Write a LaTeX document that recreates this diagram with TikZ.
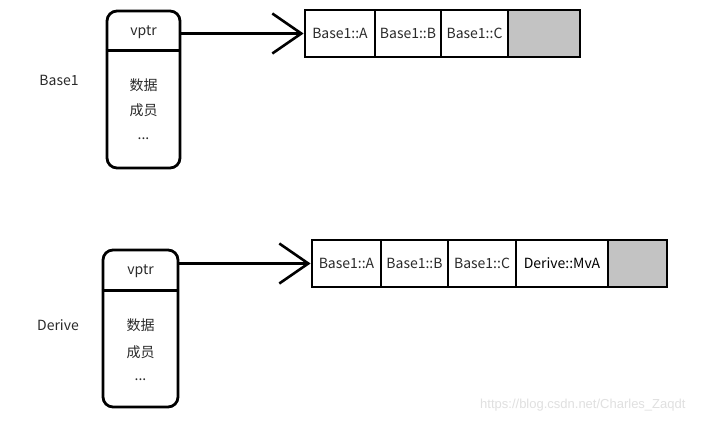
\documentclass[tikz,border=0pt]{standalone}
\usepackage{fontspec}
\setmainfont{Noto Sans CJK SC}
\newfontfamily\wmfont{Liberation Sans}
\usetikzlibrary{arrows.meta}
\definecolor{cellgrey}{HTML}{C3C3C3}
\definecolor{txt}{HTML}{2A2A2A}
\begin{document}
\begin{tikzpicture}[x=1pt,y=-1pt,
  objbox/.style={draw, line width=2.8pt, rounded corners=10pt, minimum width=#1, inner sep=0pt},
  cell/.style={draw, line width=2.8pt, minimum width=#1, minimum height=47pt, inner sep=0pt, font=\fontsize{14}{16}\selectfont, text=txt},
  lbl/.style={font=\fontsize{14}{16}\selectfont, text=txt},
  arr/.style={line width=2.6pt, -{Straight Barb[length=29pt,width=40pt,line width=2.6pt]}},
  divline/.style={line width=2.8pt}]
\useasboundingbox (0,0) rectangle (705,434);
\fill[white] (0,0) rectangle (705,434);

% ---------- Base1 ----------
\node[objbox=73pt, minimum height=157pt] (o1) at (143.5,89.5) {};
\draw[divline] ([yshift=-41pt]o1.north west) -- ([yshift=-41pt]o1.north east);
\node[lbl] (vp1) at (143.5,32) {vptr};
\node[lbl] (d1) at (143.5,85) {数据};
\node[lbl] (m1) at (143.5,110) {成员};
\node[lbl] (e1) at (143.5,139) {...};
\node[lbl] (b1) at (59,80) {Base1};

\node[cell=70pt] (t1a) at (340,33.5) {Base1::A};
\node[cell=66pt] (t1b) at (408,33.5) {Base1::B};
\node[cell=67pt] (t1c) at (474.5,33.5) {Base1::C};
\node[cell=72pt, fill=cellgrey] (t1d) at (544,33.5) {};
\draw[arr] (o1.east |- t1a.west) -- (t1a.west);

% ---------- Derive ----------
\node[objbox=75pt, minimum height=157pt] (o2) at (140.5,328.5) {};
\draw[divline] ([yshift=-42pt]o2.north west) -- ([yshift=-42pt]o2.north east);
\node[lbl] (vp2) at (140.5,271) {vptr};
\node[lbl] (d2) at (140.5,325) {数据};
\node[lbl] (m2) at (140.5,352) {成员};
\node[lbl] (e2) at (140.5,380) {...};
\node[lbl] (b2) at (58,325) {Derive};

\node[cell=69pt] (t2a) at (346.5,263.5) {Base1::A};
\node[cell=67pt] (t2b) at (414.5,263.5) {Base1::B};
\node[cell=68pt] (t2c) at (482,263.5) {Base1::C};
\node[cell=92pt, text=black] (t2d) at (562,263.5) {Derive::MvA};
\node[cell=59pt, fill=cellgrey] (t2e) at (637.5,263.5) {};
\draw[arr] (o2.east |- t2a.west) -- (t2a.west);

% watermark
\node[font=\wmfont\fontsize{13}{15}\selectfont, text=black!12, anchor=east] (wm) at (689,405) {https://blog.csdn.net/Charles\_Zaqdt};
\end{tikzpicture}
\end{document}
